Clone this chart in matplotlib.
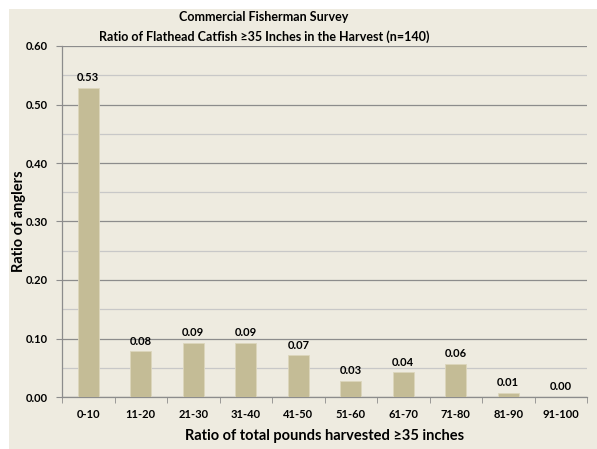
import matplotlib.pyplot as plt
from matplotlib.patches import Rectangle
from matplotlib.ticker import MultipleLocator
import numpy as np

plt.rcParams['font.family'] = ['Lato', 'DejaVu Sans']

# dane
categories = ['0-10', '11-20', '21-30', '31-40', '41-50', '51-60', '61-70', '71-80', '81-90', '91-100']
ratios = [0.528, 0.078, 0.092, 0.092, 0.071, 0.028, 0.042, 0.057, 0.007, 0.0]
labels = ['0.53', '0.08', '0.09', '0.09', '0.07', '0.03', '0.04', '0.06', '0.01', '0.00']

bg = '#EEEBE0'
bar_color = '#C4BC96'

fig = plt.figure(figsize=(5.97, 4.49), dpi=100, facecolor='white')
# beżowe tło wykresu
fig.patches.append(Rectangle((9 / 597, 0), 1, 1 - 9 / 449, transform=fig.transFigure,
                             facecolor=bg, edgecolor='none', zorder=-10))
ax = fig.add_axes([62 / 597, 1 - 397 / 449, 525 / 597, 351 / 449])
ax.set_facecolor(bg)

x = np.arange(len(categories))
ax.bar(x, ratios, width=0.4, color=bar_color, edgecolor='#DCD6BC', linewidth=0.6, zorder=3)
for xi, v, t in zip(x, ratios, labels):
    ax.text(xi, v + 0.008, t, ha='center', va='bottom', fontsize=8, fontweight='bold', zorder=4)

ax.set_xlim(-0.5, len(categories) - 0.5)
ax.set_ylim(0, 0.6)
ax.yaxis.set_minor_locator(MultipleLocator(0.05))
ax.set_yticks(np.arange(0, 0.61, 0.1))
ax.set_yticklabels(['%.2f' % v for v in np.arange(0, 0.61, 0.1)], fontsize=8, fontweight='bold')
ax.grid(axis='y', which='major', color='#8C8C8C', linewidth=0.9, zorder=0)
ax.grid(axis='y', which='minor', color='#C8C8C8', linewidth=0.9, zorder=0)

# etykiety kategorii, znaczniki na granicach
ax.set_xticks(x)
ax.set_xticklabels(categories, fontsize=8, fontweight='bold')
ax.tick_params(axis='x', which='major', length=0, pad=9)
ax.set_xticks(np.arange(-0.5, len(categories)), minor=True)
ax.tick_params(axis='x', which='minor', length=4, color='#8C8C8C', direction='out')
ax.tick_params(axis='y', which='major', length=4, color='#8C8C8C', pad=6)
ax.tick_params(axis='y', which='minor', length=0)

for s in ['top', 'right']:
    ax.spines[s].set_visible(False)
for s in ['left', 'bottom']:
    ax.spines[s].set_color('#8C8C8C')
    ax.spines[s].set_linewidth(0.9)

ax.set_xlabel('Ratio of total pounds harvested \u226535 inches', fontsize=10.5, fontweight='bold', labelpad=6)
ax.set_ylabel('Ratio of anglers', fontsize=10.5, fontweight='bold', labelpad=0)

fig.text(264 / 597, 1 - 17 / 449, 'Commercial Fisherman Survey', ha='center', va='center',
         fontsize=9, fontweight='bold')
fig.text(264 / 597, 1 - 37 / 449, 'Ratio of Flathead Catfish \u226535 Inches in the Harvest (n=140)',
         ha='center', va='center', fontsize=9, fontweight='bold')

fig.savefig('out.png', dpi=100, facecolor='white')
